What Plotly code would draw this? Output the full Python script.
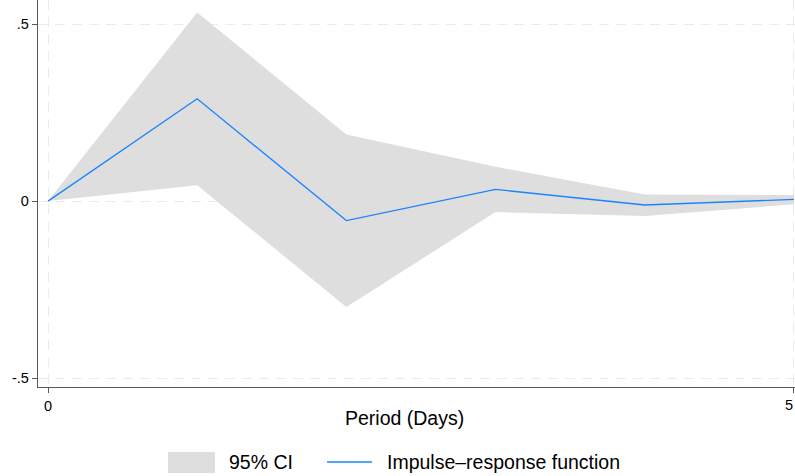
import plotly.graph_objects as go

# Impulse-response estimates by period (days after the shock)
periods = [0, 1, 2, 3, 4, 5]
irf = [0.0, 0.289, -0.055, 0.033, -0.011, 0.005]
ci_upper = [0.0, 0.533, 0.188, 0.097, 0.019, 0.017]
ci_lower = [0.0, 0.045, -0.299, -0.031, -0.042, -0.009]

y_tickvals = [-0.5, 0, 0.5]
y_ticktext = ["-.5", "0", ".5"]
x_tickvals = [0, 5]
x_ticktext = ["0", "5"]

W, H = 795, 476
M_L, M_R, M_T, M_B = 38, 0, 0, 89
PLOT_H = H - M_T - M_B
PLOT_W = W - M_L - M_R

FONT = "Liberation Sans, Arial, sans-serif"
TEXT_SIZE = 19.5
TICK_SIZE = 14.5
CI_COLOR = "#dedede"
LINE_COLOR = "#1a84ff"
AXIS_COLOR = "#5a5a5a"
GRID_COLOR = "#ebebeb"


def px_x(p):
    """Horizontal pixel position -> paper coordinate."""
    return (p - M_L) / PLOT_W


def px_y(p):
    """Vertical pixel position -> paper coordinate."""
    return (M_T + PLOT_H - p) / PLOT_H


fig = go.Figure()

# Confidence band as a closed polygon: upper edge out, lower edge back
fig.add_trace(go.Scatter(
    x=periods + periods[::-1],
    y=ci_upper + ci_lower[::-1],
    fill="toself",
    fillcolor=CI_COLOR,
    line=dict(width=0, color=CI_COLOR),
    mode="lines",
    hoverinfo="skip",
    showlegend=False,
    name="95% CI",
))

fig.add_trace(go.Scatter(
    x=periods,
    y=irf,
    mode="lines",
    line=dict(color=LINE_COLOR, width=1.3),
    showlegend=False,
    name="Impulse\u2013response function",
))

# Legend drawn below the axis title
leg_y = 462
fig.add_shape(type="rect", xref="paper", yref="paper",
              x0=px_x(168), x1=px_x(215), y0=px_y(473), y1=px_y(452),
              fillcolor=CI_COLOR, line=dict(width=0))
fig.add_shape(type="line", xref="paper", yref="paper",
              x0=px_x(327), x1=px_x(372), y0=px_y(leg_y), y1=px_y(leg_y),
              line=dict(color=LINE_COLOR, width=1.3))
fig.add_annotation(text="95% CI", xref="paper", yref="paper",
                   x=px_x(227), y=px_y(leg_y), xanchor="left", yanchor="middle",
                   showarrow=False, font=dict(family=FONT, size=TEXT_SIZE, color="#000"))
fig.add_annotation(text="Impulse\u2013response function", xref="paper", yref="paper",
                   x=px_x(385), y=px_y(leg_y), xanchor="left", yanchor="middle",
                   showarrow=False, font=dict(family=FONT, size=TEXT_SIZE, color="#000"))

# Axis title
fig.add_annotation(text="Period (Days)", xref="paper", yref="paper",
                   x=px_x(404), y=px_y(418), xanchor="center", yanchor="middle",
                   showarrow=False, font=dict(family=FONT, size=TEXT_SIZE, color="#000"))

# Last x tick label sits against the right edge of the page
fig.add_annotation(text=x_ticktext[-1], xref="paper", yref="paper",
                   x=1, y=px_y(395), xanchor="right", yanchor="top",
                   showarrow=False, font=dict(family=FONT, size=TICK_SIZE, color="#000"))

fig.update_layout(
    width=W, height=H,
    margin=dict(l=M_L, r=M_R, t=M_T, b=M_B, pad=0),
    paper_bgcolor="white",
    plot_bgcolor="white",
    font=dict(family=FONT, color="#000"),
    showlegend=False,
)

fig.update_xaxes(
    range=[-0.067, 5.007],
    tickvals=x_tickvals, ticktext=x_ticktext,
    ticks="outside", ticklen=5, tickcolor=AXIS_COLOR, tickwidth=1,
    tickfont=dict(family=FONT, size=TICK_SIZE, color="#000"),
    showline=True, linecolor=AXIS_COLOR, linewidth=1.3,
    showgrid=True, gridcolor=GRID_COLOR, gridwidth=1, griddash="10px,7px",
    zeroline=False,
)
fig.update_yaxes(
    range=[-0.525, 0.568],
    tickvals=y_tickvals, ticktext=y_ticktext,
    ticks="outside", ticklen=5, tickcolor=AXIS_COLOR, tickwidth=1,
    tickfont=dict(family=FONT, size=TICK_SIZE, color="#000"),
    showline=True, linecolor=AXIS_COLOR, linewidth=1.3,
    showgrid=True, gridcolor=GRID_COLOR, gridwidth=1, griddash="10px,7px",
    zeroline=False,
)

fig.write_html("out.html")
